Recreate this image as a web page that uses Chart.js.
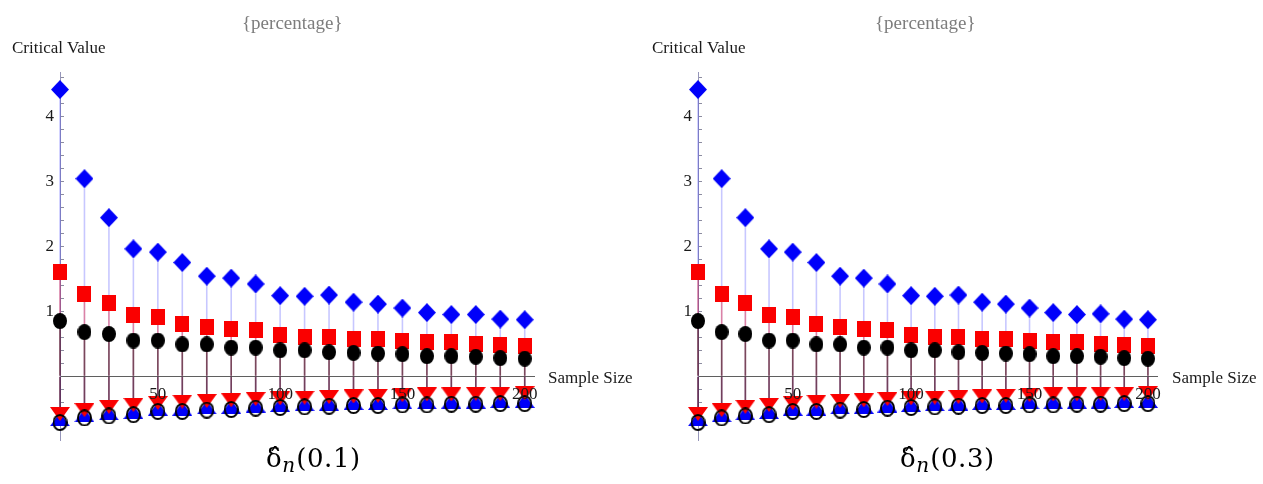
<!DOCTYPE html>
<html>
<head>
<meta charset="utf-8">
<script src="https://cdn.jsdelivr.net/npm/chart.js@4.4.1/dist/chart.umd.min.js"></script>
<style>
html,body{margin:0;padding:0;background:#fff;width:1263px;height:484px;overflow:hidden;}
.panel{position:absolute;top:0;height:484px;}
canvas{display:block;}
.t{position:absolute;font-family:"Liberation Serif","Times New Roman",serif;white-space:nowrap;color:#1a1a1a;}
.pct{font-size:19px;line-height:19px;color:#7d7d7d;top:13px;}
.cv{font-size:17px;line-height:17px;top:39px;}
.ss{font-size:17px;line-height:17px;top:369px;}
.cap{position:absolute;top:445px;font-family:"DejaVu Serif",serif;font-size:26px;line-height:26px;color:#000;white-space:nowrap;letter-spacing:0.6px;}
.cap .n{font-style:italic;font-size:20px;position:relative;top:5px;letter-spacing:0;margin-right:1px;}
</style>
</head>
<body>
<div class="panel" style="left:0;width:630px;"><canvas id="c1" width="630" height="484"></canvas></div>
<div class="panel" style="left:638px;width:625px;"><canvas id="c2" width="625" height="484"></canvas></div>

<div class="t pct" style="left:242px;">{percentage}</div>
<div class="t cv" style="left:12px;">Critical Value</div>
<div class="t ss" style="left:548px;">Sample Size</div>
<div class="cap" style="left:266px;">δ̂<span class="n">n</span>(0.1)</div>

<div class="t pct" style="left:875px;">{percentage}</div>
<div class="t cv" style="left:652px;">Critical Value</div>
<div class="t ss" style="left:1172px;">Sample Size</div>
<div class="cap" style="left:900px;">δ̂<span class="n">n</span>(0.3)</div>

<script>
// ---- data ----
const sampleSizes = [10,20,30,40,50,60,70,80,90,100,110,120,130,140,150,160,170,180,190,200];
const xTickValues = [50,100,150,200];
const yTickLabels = [1,2,3,4];

// panel 1 : delta_n(0.1)
const p1UpperBlue  = [4.41,3.04,2.44,1.96,1.91,1.75,1.54,1.51,1.42,1.24,1.23,1.25,1.14,1.11,1.05,0.98,0.95,0.95,0.88,0.87];
const p1UpperRed   = [1.60,1.26,1.13,0.95,0.91,0.80,0.76,0.72,0.71,0.64,0.60,0.60,0.58,0.57,0.54,0.52,0.52,0.49,0.48,0.47];
const p1UpperBlack = [0.85,0.68,0.65,0.55,0.55,0.49,0.49,0.44,0.44,0.40,0.40,0.37,0.36,0.35,0.34,0.31,0.31,0.30,0.28,0.27];
const p1LowerRed   = [-0.58,-0.52,-0.47,-0.44,-0.41,-0.39,-0.38,-0.37,-0.35,-0.34,-0.33,-0.32,-0.31,-0.30,-0.29,-0.28,-0.28,-0.27,-0.27,-0.26];
const p1LowerBlue  = [-0.66,-0.60,-0.57,-0.55,-0.50,-0.50,-0.48,-0.47,-0.45,-0.44,-0.43,-0.42,-0.41,-0.41,-0.40,-0.40,-0.39,-0.39,-0.38,-0.38];
const p1LowerBlack = [-0.71,-0.64,-0.61,-0.59,-0.54,-0.54,-0.52,-0.51,-0.49,-0.48,-0.47,-0.46,-0.45,-0.45,-0.44,-0.44,-0.43,-0.43,-0.42,-0.42];

// panel 2 : delta_n(0.3)
const p2UpperBlue  = [4.41,3.04,2.44,1.96,1.91,1.75,1.54,1.51,1.42,1.24,1.23,1.25,1.14,1.11,1.05,0.98,0.95,0.96,0.88,0.87];
const p2UpperRed   = [1.60,1.26,1.13,0.95,0.91,0.80,0.76,0.72,0.71,0.64,0.60,0.60,0.58,0.57,0.54,0.52,0.52,0.49,0.48,0.47];
const p2UpperBlack = [0.85,0.68,0.65,0.55,0.55,0.49,0.49,0.44,0.44,0.40,0.40,0.37,0.36,0.35,0.34,0.31,0.31,0.30,0.28,0.27];
const p2LowerRed   = [-0.58,-0.52,-0.47,-0.44,-0.41,-0.39,-0.38,-0.37,-0.35,-0.34,-0.33,-0.32,-0.31,-0.30,-0.29,-0.28,-0.28,-0.27,-0.27,-0.26];
const p2LowerBlue  = [-0.66,-0.60,-0.57,-0.55,-0.50,-0.50,-0.48,-0.47,-0.45,-0.44,-0.43,-0.42,-0.41,-0.41,-0.40,-0.40,-0.39,-0.39,-0.38,-0.38];
const p2LowerBlack = [-0.71,-0.64,-0.61,-0.59,-0.54,-0.54,-0.52,-0.51,-0.49,-0.48,-0.47,-0.46,-0.45,-0.45,-0.44,-0.44,-0.43,-0.43,-0.42,-0.42];

// ---- marker images ----
function markerImg(kind, w, h, fill, stroke, lw) {
  const c = document.createElement('canvas');
  c.width = w; c.height = h;
  const g = c.getContext('2d');
  g.beginPath();
  if (kind === 'diamond') { g.moveTo(w/2,0); g.lineTo(w,h/2); g.lineTo(w/2,h); g.lineTo(0,h/2); }
  else if (kind === 'square') { g.rect(0,0,w,h); }
  else if (kind === 'down') { g.moveTo(0,0); g.lineTo(w,0); g.lineTo(w/2,h); }
  else if (kind === 'up') { g.moveTo(w/2,0); g.lineTo(w,h); g.lineTo(0,h); }
  else if (kind === 'ellipse') { const o=(lw||0)/2; g.ellipse(w/2,h/2,w/2-o,h/2-o,0,0,Math.PI*2); }
  g.closePath();
  if (fill) { g.fillStyle = fill; g.fill(); }
  if (stroke) { g.lineWidth = lw; g.strokeStyle = stroke; g.stroke(); }
  return c;
}
const BLUE = 'rgb(0,0,250)', RED = 'rgb(250,0,0)', BLACK = '#000';
const imgDiamond = markerImg('diamond', 18, 19, BLUE);
const imgSquare  = markerImg('square', 14, 16, RED);
const imgDot     = markerImg('ellipse', 14, 16, BLACK);
const imgDown    = markerImg('down', 20, 14, RED);
const imgUp      = markerImg('up', 20, 14, BLUE);
const imgRing    = markerImg('ellipse', 15, 17, null, BLACK, 2);

function pts(vals) { return sampleSizes.map((x, i) => ({x: x, y: vals[i]})); }
function stem(vals, color, order) {
  return {type:'bar', data: pts(vals), backgroundColor: color, borderWidth: 0,
          grouped: false, maxBarThickness: 1.6, order: order, clip: false};
}
function marks(vals, img, order) {
  return {type:'scatter', data: pts(vals), pointStyle: img, pointRadius: 8,
          pointHoverRadius: 8, order: order, clip: false, showLine: false};
}

function makeChart(id, padRight, s) {
  const font = {family: 'Liberation Serif', size: 17};
  return new Chart(document.getElementById(id), {
    type: 'scatter',
    data: {
      datasets: [
        stem(s.ub, 'rgba(0,0,255,0.22)', 30),
        stem(s.ur, 'rgba(255,0,0,0.35)', 29),
        stem(s.uk, 'rgba(0,0,0,0.45)', 28),
        stem(s.lb, 'rgba(0,0,255,0.30)', 27),
        stem(s.lr, 'rgba(255,0,0,0.35)', 26),
        stem(s.lk, 'rgba(0,0,0,0.45)', 25),
        marks(s.ub, imgDiamond, 6),
        marks(s.ur, imgSquare, 5),
        marks(s.uk, imgDot, 4),
        marks(s.lb, imgUp, 3),
        marks(s.lr, imgDown, 2),
        marks(s.lk, imgRing, 1)
      ]
    },
    options: {
      responsive: false,
      animation: false,
      layout: {padding: {left: 0, right: padRight, top: 72, bottom: 44}},
      plugins: {legend: {display: false}, tooltip: {enabled: false}, title: {display: false}},
      scales: {
        x: {
          type: 'linear', min: 10, max: 204, offset: false, position: {y: 0},
          afterBuildTicks: sc => { sc.ticks = xTickValues.map(v => ({value: v})); },
          grid: {display: true, drawOnChartArea: false, drawTicks: false, offset: false},
          border: {display: true, color: 'rgb(95,95,95)', width: 1},
          ticks: {font: font, color: '#1a1a1a', padding: 8, maxRotation: 0, autoSkip: false, z: 1}
        },
        y: {
          type: 'linear', min: -0.98, max: 4.68,
          afterFit: sc => { sc.width = 60; },
          grid: {display: true, drawOnChartArea: false, drawTicks: true, tickLength: -4,
                 tickColor: 'rgb(140,140,160)', tickWidth: 1},
          border: {display: true, color: 'rgb(150,150,185)', width: 1},
          ticks: {
            stepSize: 0.2, includeBounds: false, autoSkip: false, padding: 10,
            font: font, color: '#1a1a1a',
            callback: v => {
              const r = Math.round(v);
              return (Math.abs(v - r) < 1e-6 && yTickLabels.includes(r)) ? String(r) : '';
            }
          }
        }
      }
    }
  });
}

makeChart('c1', 95.5, {ub: p1UpperBlue, ur: p1UpperRed, uk: p1UpperBlack, lb: p1LowerBlue, lr: p1LowerRed, lk: p1LowerBlack});
makeChart('c2', 105.6, {ub: p2UpperBlue, ur: p2UpperRed, uk: p2UpperBlack, lb: p2LowerBlue, lr: p2LowerRed, lk: p2LowerBlack});
</script>
</body>
</html>
